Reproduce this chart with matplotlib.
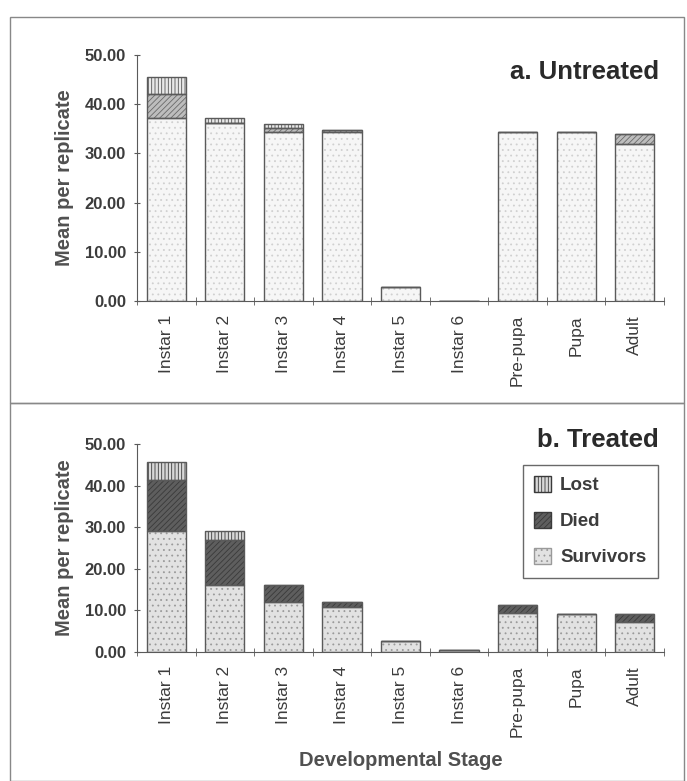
import numpy as np
import matplotlib
matplotlib.use("Agg")
import matplotlib.pyplot as plt
from matplotlib.patches import Patch, Rectangle

plt.rcParams['font.family'] = ['Liberation Sans', 'DejaVu Sans']
plt.rcParams['hatch.linewidth'] = 0.6

stages = ["Instar 1", "Instar 2", "Instar 3", "Instar 4", "Instar 5",
          "Instar 6", "Pre-pupa", "Pupa", "Adult"]

# a. Untreated
untr_surv = [37.2, 36.1, 34.3, 34.4, 2.9, 0.0, 34.3, 34.3, 32.0]
untr_died = [4.8, 0.0, 0.8, 0.3, 0.0, 0.0, 0.0, 0.0, 2.0]
untr_lost = [3.6, 1.0, 0.9, 0.0, 0.0, 0.0, 0.0, 0.0, 0.0]

# b. Treated
trt_surv = [29.0, 16.0, 12.1, 10.7, 2.6, 0.6, 9.3, 9.1, 7.1]
trt_died = [12.4, 11.0, 3.9, 1.4, 0.0, 0.0, 1.9, 0.0, 2.0]
trt_lost = [4.2, 2.0, 0.0, 0.0, 0.0, 0.0, 0.0, 0.0, 0.0]

txt = '#3c3c3c'
edge = '#5a5a5a'

fig = plt.figure(figsize=(6.87, 7.81), dpi=100)

# panel frames
fig.patches.append(Rectangle((10/687, 1 - 403/781), 674/687, 386/781, transform=fig.transFigure,
                             fill=False, edgecolor='#888888', lw=1.0))
fig.patches.append(Rectangle((10/687, 0.0), 674/687, 378/781, transform=fig.transFigure,
                             fill=False, edgecolor='#888888', lw=1.0))


def panel(ax, surv, died, lost, title, styles):
    x = np.arange(len(stages))
    w = 0.67
    s_fc, s_hc, d_fc, d_hc, l_fc, l_hc = styles
    b1 = np.array(surv)
    b2 = b1 + np.array(died)
    ax.bar(x, surv, w, color=s_fc, hatch='...', edgecolor=s_hc, lw=0)
    ax.bar(x, died, w, bottom=b1, color=d_fc, hatch='//////', edgecolor=d_hc, lw=0)
    ax.bar(x, lost, w, bottom=b2, color=l_fc, hatch='|||||', edgecolor=l_hc, lw=0)
    # outlines
    for bot, h in [(0, b1), (b1, died), (b2, lost)]:
        ax.bar(x, h, w, bottom=bot, fill=False, edgecolor=edge, lw=1.0)
    ax.set_xlim(-0.5, 8.5)
    ax.set_ylim(0, 50)
    ax.set_yticks(np.arange(0, 51, 10))
    ax.set_yticklabels(["%.2f" % v for v in np.arange(0, 51, 10)],
                       fontsize=12, fontweight='bold', color=txt)
    ax.set_xticks(x)
    ax.set_xticklabels(stages, rotation=90, fontsize=12.5, color=txt)
    ax.set_xticks(np.arange(-0.5, 9, 1), minor=True)
    ax.tick_params(axis='x', which='major', length=0, pad=10)
    ax.tick_params(axis='x', which='minor', length=6, direction='inout', color=edge)
    ax.tick_params(axis='y', length=4, direction='inout', color=edge, pad=6)
    for s in ['top', 'right']:
        ax.spines[s].set_visible(False)
    for s in ['left', 'bottom']:
        ax.spines[s].set_color(edge)
    ax.set_ylabel("Mean per replicate", fontsize=14.5, fontweight='bold', color='#505050',
                  labelpad=8)
    ax.text(0.99, 0.93, title, transform=ax.transAxes, ha='right', va='center',
            fontsize=18.5, fontweight='bold', color='#2a2a2a')


ax1 = fig.add_axes([137/687, 1 - 301/781, 527/687, 246/781])
panel(ax1, untr_surv, untr_died, untr_lost, "a. Untreated",
      ('#f6f6f6', '#d0d0d0', '#bdbdbd', '#6a6a6a', '#e8e8e8', '#555555'))

ax2 = fig.add_axes([137/687, 1 - 652/781, 527/687, 208/781])
panel(ax2, trt_surv, trt_died, trt_lost, "b. Treated",
      ('#e2e2e2', '#9a9a9a', '#5e5e5e', '#3a3a3a', '#d8d8d8', '#3a3a3a'))
ax2.texts[0].set_position((0.99, 1.02))
ax2.set_xlabel("Developmental Stage", fontsize=14.5, fontweight='bold', color='#505050',
               labelpad=10)

handles = [Patch(facecolor='#d8d8d8', edgecolor='#3a3a3a', hatch='|||||', label='Lost'),
           Patch(facecolor='#5e5e5e', edgecolor='#3a3a3a', hatch='//////', label='Died'),
           Patch(facecolor='#e2e2e2', edgecolor='#9a9a9a', hatch='...', label='Survivors')]
leg = ax2.legend(handles=handles, loc='upper right', bbox_to_anchor=(0.988, 0.90),
                 prop={'size': 13.5, 'weight': 'bold'}, frameon=True, fancybox=False,
                 edgecolor='#444444', labelspacing=0.95, handlelength=0.9, handleheight=0.9,
                 borderpad=0.6, handletextpad=0.5, borderaxespad=0)
leg.get_frame().set_linewidth(1.0)
for t in leg.get_texts():
    t.set_color(txt)

fig.savefig("out.png", dpi=100)
